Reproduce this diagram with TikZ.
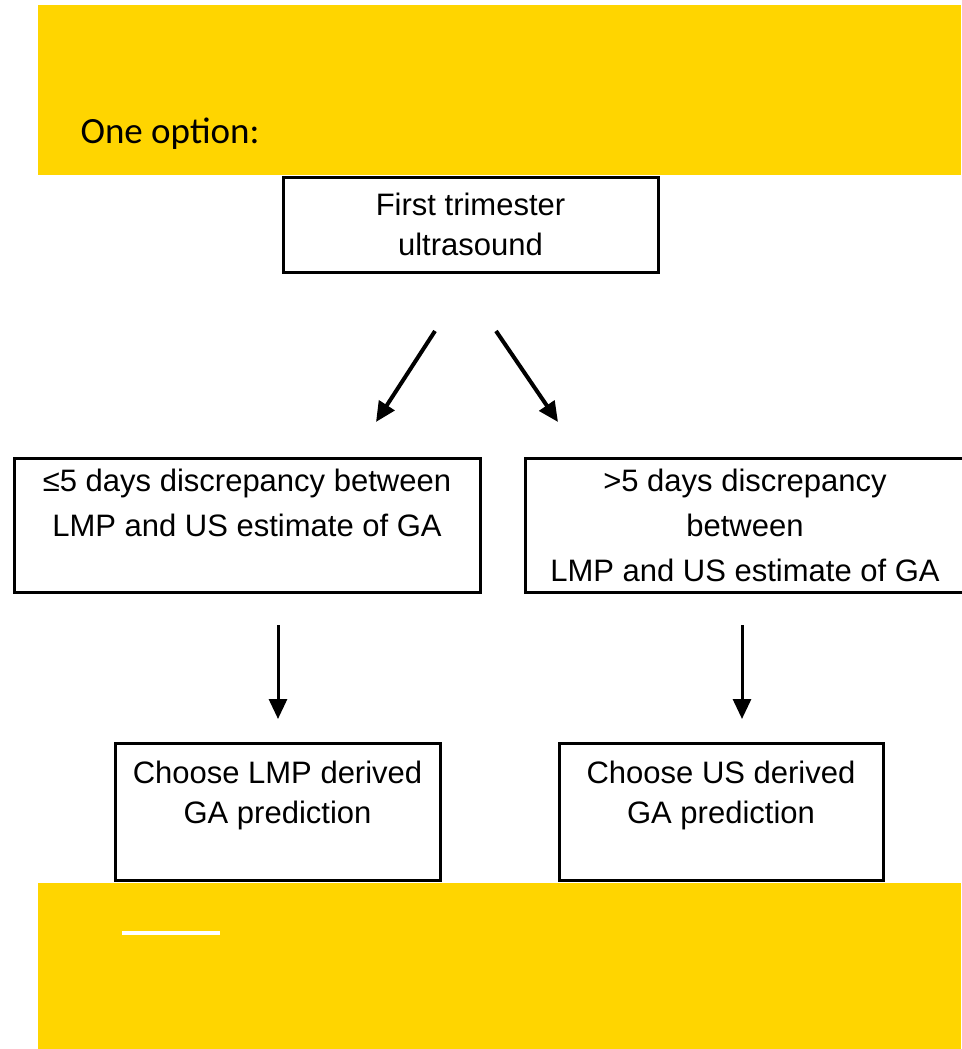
\documentclass[tikz,border=0pt]{standalone}
\usepackage{fontspec}
\setmainfont{Liberation Sans}
\newfontfamily\bandfont{Carlito}
\usetikzlibrary{arrows.meta,math}
\definecolor{bandyellow}{RGB}{255,213,0}

\begin{document}
\begin{tikzpicture}[x=1pt,y=-1pt,
	box/.style={draw,line width=3pt,align=center,inner sep=0pt,
		font=\fontsize{31}{40}\selectfont},
	flow/.style={-{Triangle[length=20pt,width=18pt]},line width=3pt}]

\tikzmath{
	real	\rowa, \rowb, \rowc;
	\rowa = 224.5;
	\rowb = 525;
	\rowc = 812;
}

\useasboundingbox (0,0) rectangle (961,1049);

\node[box,minimum width=375pt,minimum height=95pt] (scan)
	at (470.5,{\rowa}) {First trimester\\ultrasound};

\node[box,minimum width=466pt,minimum height=134pt,
	font=\fontsize{31}{45}\selectfont] (close)
	at (247,{\rowb}) {≤5 days discrepancy between\\LMP and US estimate of GA\\~};
\node[box,minimum width=440pt,minimum height=134pt,
	font=\fontsize{31}{45}\selectfont] (apart)
	at (745,{\rowb}) {>5 days discrepancy\\between\\LMP and US estimate of GA};

\node[box,minimum width=325pt,minimum height=137pt] (lmp)
	at (277.5,{\rowc}) {Choose LMP derived\\GA prediction\\~};
\node[box,minimum width=324pt,minimum height=137pt] (us)
	at (721,{\rowc}) {Choose US derived\\GA prediction\\~};

% arrow ends, kept clear of the boxes
\coordinate (forkL) at (435,331);
\coordinate (tipL) at (376,422);
\coordinate (forkR) at (496,331);
\coordinate (tipR) at (558,422);
\coordinate (dropL) at (278,625);
\coordinate (landL) at (278,719);
\coordinate (dropR) at (742,625);
\coordinate (landR) at (742,719);

\draw[flow,line width=4pt] (forkL)--(tipL);
\draw[flow,line width=4pt] (forkR)--(tipR);
\draw[flow] (dropL)--(landL);
\draw[flow] (dropR)--(landR);

\fill[bandyellow] (38,5) rectangle (961,175);
\fill[bandyellow] (38,883) rectangle (961,1049);
\draw[white,line width=4pt] (122,933)--(220,933);

\node[anchor=base west,font=\bandfont\fontsize{37}{46}\selectfont] (option)
	at (77,143) {One option:};

\end{tikzpicture}
\end{document}
